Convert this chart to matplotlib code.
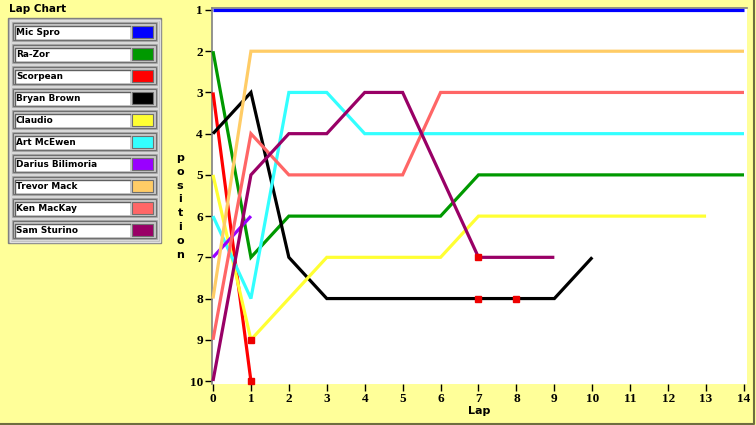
import matplotlib
matplotlib.use("Agg")
import matplotlib.pyplot as plt
from matplotlib.patches import Rectangle
import numpy as np

# ---- data ----
drivers = ["Mic Spro", "Ra-Zor", "Scorpean", "Bryan Brown", "Claudio",
           "Art McEwen", "Darius Bilimoria", "Trevor Mack", "Ken MacKay", "Sam Sturino"]
colors = ["#0000FF", "#009900", "#FF0000", "#000000", "#FFFF33",
          "#33FFFF", "#9900FF", "#FFCC66", "#FF6666", "#990066"]
mic_spro = [1, 1, 1, 1, 1, 1, 1, 1, 1, 1, 1, 1, 1, 1, 1]
ra_zor = [2, 7, 6, 6, 6, 6, 6, 5, 5, 5, 5, 5, 5, 5, 5]
scorpean = [3, 10]
bryan_brown = [4, 3, 7, 8, 8, 8, 8, 8, 8, 8, 7]
claudio = [5, 9, 8, 7, 7, 7, 7, 6, 6, 6, 6, 6, 6, 6]
art_mcewen = [6, 8, 3, 3, 4, 4, 4, 4, 4, 4, 4, 4, 4, 4, 4]
darius = [7, 6]
trevor_mack = [8, 2, 2, 2, 2, 2, 2, 2, 2, 2, 2, 2, 2, 2, 2]
ken_mackay = [9, 4, 5, 5, 5, 5, 3, 3, 3, 3, 3, 3, 3, 3, 3]
sam_sturino = [10, 5, 4, 4, 3, 3, 5, 7, 7, 7]
positions = [mic_spro, ra_zor, scorpean, bryan_brown, claudio,
             art_mcewen, darius, trevor_mack, ken_mackay, sam_sturino]
pit_laps = [1, 1, 7, 7, 8]
pit_pos = [9, 10, 7, 8, 8]
x_ticks = list(range(0, 15))
y_ticks = list(range(1, 11))

W, H = 756, 425
BG = "#FFFF99"
fig = plt.figure(figsize=(W / 100, H / 100), dpi=100, facecolor=BG)

def px_rect(x0, y0, x1, y1):
    return [x0 / W, 1 - y1 / H, (x1 - x0) / W, (y1 - y0) / H]

ax = fig.add_axes(px_rect(212, 8, 747, 383.5))
ax.set_facecolor("white")
ppl = (744 - 213) / 14.0
ppp = (381 - 10) / 9.0
ax.set_xlim(-1 / ppl, 14 + 3 / ppl)
ax.set_ylim(10 + 2.5 / ppp, 1 - 2 / ppp)

for name, col, pos in zip(drivers, colors, positions):
    ax.plot(range(len(pos)), pos, color=col, lw=2.3, solid_capstyle="butt",
            solid_joinstyle="miter", clip_on=False, zorder=3)
ax.plot(pit_laps, pit_pos, ls="none", marker="s", ms=4.8, color="#EE0000",
        mec="#EE0000", zorder=5, clip_on=False)

for s in ["bottom", "right"]:
    ax.spines[s].set_visible(False)
for s in ["left", "top"]:
    ax.spines[s].set_color("#808080")
    ax.spines[s].set_linewidth(1.2)

ax.set_xticks(x_ticks)
ax.set_yticks(y_ticks)
ax.tick_params(axis="both", length=5, width=1, color="black", pad=1.5)
for lab in ax.get_xticklabels() + ax.get_yticklabels():
    lab.set_family("Liberation Serif")
    lab.set_fontweight("bold")
    lab.set_fontsize(9.5)
ax.set_xlabel("Lap", fontsize=8, fontweight="bold", family="DejaVu Sans", labelpad=1)

# overlay in pixel coordinates for the panel
ov = fig.add_axes([0, 0, 1, 1], zorder=-1)
ov.set_xlim(0, W)
ov.set_ylim(H, 0)
ov.axis("off")
ov.patch.set_alpha(0)

# stacked "position" label
for i, ch in enumerate("position"):
    ov.text(180, 158 + i * 13.8, ch, ha="center", va="center", fontsize=8,
            fontweight="bold", family="DejaVu Sans")

# border of window
ov.plot([754, 754, 0], [0, 423.5, 423.5], color="#6E6E40", lw=1.5)

# legend panel
ov.text(9, 9, "Lap Chart", ha="left", va="center", fontsize=7.5,
        fontweight="bold", family="DejaVu Sans")

def rect(x0, y0, x1, y1, fc, ec="none", lw=0, z=1):
    ov.add_patch(Rectangle((x0, y0), x1 - x0, y1 - y0, facecolor=fc,
                           edgecolor=ec, lw=lw, zorder=z))

rect(8, 18, 161, 243, "#B8B8B8", "#808080", 1.0)
rect(9.5, 19.5, 159.5, 241.5, "none", "#E0E0E0", 1.0, z=2)
for i, (name, col) in enumerate(zip(drivers, colors)):
    y0 = 21 + 22 * i
    rect(11, y0, 158, y0 + 21, "#A0A0A0", "#D8D8D8", 1.0, z=2)
    rect(13, y0 + 2, 156, y0 + 19, "#C8C8C8", "#707070", 0.8, z=2)
    rect(15, y0 + 5, 130, y0 + 18, "white", "none", 0, z=3)
    ov.plot([15, 15, 130], [y0 + 18, y0 + 5, y0 + 5], color="#606060", lw=1.0, zorder=4)
    rect(132, y0 + 5, 153, y0 + 17, col, "#707070", 0.8, z=3)
    ov.text(16, y0 + 11.8, name, ha="left", va="center", fontsize=6.4,
            fontweight="bold", family="DejaVu Sans", zorder=5)

fig.savefig("out.png", dpi=100, facecolor=BG)
